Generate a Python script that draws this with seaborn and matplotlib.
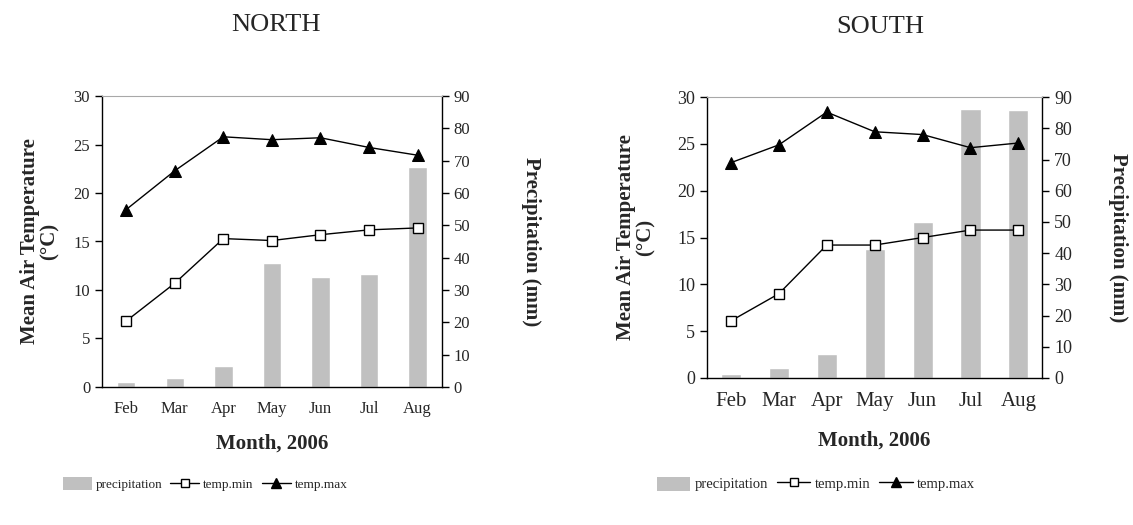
import numpy as np
import matplotlib
matplotlib.use("Agg")
import matplotlib.pyplot as plt
import seaborn as sns
from matplotlib.patches import Patch
from matplotlib.lines import Line2D

months = ["Feb", "Mar", "Apr", "May", "Jun", "Jul", "Aug"]

# North station
north_precip = [1.4, 2.9, 6.4, 38.4, 34.0, 35.0, 67.9]
north_tmin = [6.8, 10.7, 15.3, 15.1, 15.7, 16.2, 16.4]
north_tmax = [18.3, 22.3, 25.8, 25.5, 25.7, 24.7, 23.9]

# South station
south_precip = [1.2, 3.3, 7.8, 41.2, 50.1, 86.3, 85.9]
south_tmin = [6.1, 9.0, 14.2, 14.2, 15.0, 15.8, 15.8]
south_tmax = [23.0, 24.9, 28.4, 26.3, 26.0, 24.6, 25.1]

sns.set_style("white")
plt.rcParams["font.family"] = ["Liberation Serif", "DejaVu Serif"]

BAR = "#c0c0c0"


def draw_panel(fig, rect, precip, tmin, tmax, xtick_fs, ytick_fs, bar_w, ylab_x, y2lab_x, xlab_pad):
    ax = fig.add_axes(rect)
    ax2 = ax.twinx()

    sns.barplot(x=months, y=precip, color=BAR, width=bar_w, saturation=1, ax=ax2)
    x = np.arange(len(months))
    sns.lineplot(x=x, y=tmin, ax=ax, color="black", lw=1, marker="s", ms=7,
                 markerfacecolor="white", markeredgecolor="black", markeredgewidth=1)
    sns.lineplot(x=x, y=tmax, ax=ax, color="black", lw=1, marker="^", ms=8,
                 markerfacecolor="black", markeredgecolor="black")

    # lines in front of bars
    ax.set_zorder(ax2.get_zorder() + 1)
    ax.patch.set_visible(False)

    ax.set_xlim(-0.5, 6.5)
    ax.set_ylim(0, 30)
    ax2.set_ylim(0, 90)
    ax.set_yticks(range(0, 31, 5))
    ax2.set_yticks(range(0, 91, 10))
    ax.set_xticks(x)
    ax.set_xticklabels(months)
    ax.set_xticks(np.arange(-0.5, 7, 1), minor=True)
    ax.tick_params(axis="x", which="major", length=0, labelsize=xtick_fs, pad=10)
    ax.tick_params(axis="x", which="minor", length=6, width=1, direction="out", color="black")
    ax.tick_params(axis="y", length=5, width=1, direction="out", left=True, labelsize=ytick_fs, color="black")
    ax2.tick_params(axis="y", length=5, width=1, direction="out", right=True, labelsize=ytick_fs, color="black")

    for s in ["left", "bottom"]:
        ax.spines[s].set_color("black")
        ax.spines[s].set_linewidth(1)
    ax.spines["top"].set_color("#a8a8a8")
    ax.spines["right"].set_visible(False)
    for s in ["left", "bottom", "top"]:
        ax2.spines[s].set_visible(False)
    ax2.spines["right"].set_color("black")
    ax2.spines["right"].set_linewidth(1)

    ax.set_xlabel("Month, 2006", fontsize=15, fontweight="bold", labelpad=xlab_pad)
    ax.set_ylabel("Mean Air Temperature\n(°C)", fontsize=15, fontweight="bold", linespacing=1.0)
    ax.yaxis.set_label_coords(ylab_x, 0.5)
    ax2.set_ylabel("Precipitation (mm)", fontsize=15, fontweight="bold", rotation=270, va="bottom")
    ax2.yaxis.set_label_coords(y2lab_x, 0.5)
    return ax


fig = plt.figure(figsize=(11.33, 5.25), dpi=100)

draw_panel(fig, [0.090, 0.263, 0.300, 0.554], north_precip, north_tmin, north_tmax,
           xtick_fs=12, ytick_fs=12, bar_w=0.38, ylab_x=-0.124, y2lab_x=1.232, xlab_pad=12)
draw_panel(fig, [0.624, 0.280, 0.296, 0.535], south_precip, south_tmin, south_tmax,
           xtick_fs=15, ytick_fs=13, bar_w=0.42, ylab_x=-0.152, y2lab_x=1.195, xlab_pad=14)

fig.text(276 / 1133, 1 - 25 / 525, "NORTH", ha="center", va="center", fontsize=19)
fig.text(880 / 1133, 1 - 27 / 525, "SOUTH", ha="center", va="center", fontsize=19)

handles = [
    Patch(facecolor=BAR, edgecolor="none"),
    Line2D([], [], color="black", lw=1, marker="s", ms=6, markerfacecolor="white"),
    Line2D([], [], color="black", lw=1, marker="^", ms=7, markerfacecolor="black"),
]
labels = ["precipitation", "temp.min", "temp.max"]
fig.legend(handles, labels, loc="center", bbox_to_anchor=(205 / 1133, 1 - 484 / 525), ncol=3,
           frameon=False, fontsize=9.5, handlelength=2.2, handleheight=1.1,
           handletextpad=0.3, columnspacing=0.6)
fig.legend(handles, labels, loc="center", bbox_to_anchor=(816 / 1133, 1 - 484 / 525), ncol=3,
           frameon=False, fontsize=10.5, handlelength=2.3, handleheight=1.1,
           handletextpad=0.3, columnspacing=0.6)

fig.savefig("out.png", dpi=100)
